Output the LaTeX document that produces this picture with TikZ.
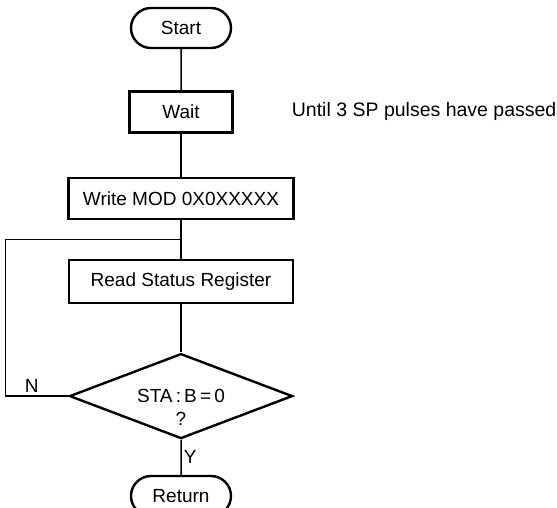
\documentclass[tikz,border=0pt]{standalone}
\usepackage{fontspec}
\setmainfont{Liberation Sans}
\usetikzlibrary{shapes.geometric, shapes.misc, positioning, calc}

\begin{document}
\begin{tikzpicture}[x=1pt, y=-1pt,
		font=\fontsize{19}{23}\selectfont,
		line/.style={line width=1.5pt}
	]
	\tikzstyle{Node} = [ %common look of the flowchart shapes
		text centered,
		draw=black,
		line width=2.4pt,
		inner sep=2pt
	]
	\tikzstyle{BoxNode} = [
		rectangle,
		minimum height=41pt,
		Node
	]
	\tikzstyle{TermNode} = [
		rounded rectangle,
		minimum width=104pt,
		minimum height=40pt,
		Node
	]
	\tikzstyle{DecNode} = [
		diamond,
		minimum width=223pt,
		minimum height=85pt,
		inner sep=0pt,
		Node
	]

	\useasboundingbox (0,0) rectangle (557,507);

	\node (start) [TermNode] at (181,28) {Start};
	\node (wait) [BoxNode, minimum width=103pt, below = 41pt of start] {Wait};
	\node (write) [BoxNode, minimum width=225pt, below = 43pt of wait] {Write MOD 0X0XXXXX};
	\node (read) [BoxNode, minimum width=224pt, minimum height=43pt, below = 39pt of write] {Read Status Register};
	\node (test) [DecNode, below = 48pt of read] {};
	\node (testtext) [align=center] at ([yshift=-11pt]test.center) {STA\,:\,B\,=\,0\\?};
	\node (return) [TermNode, below = 35pt of test] {Return};
	\node (note) [inner sep=0pt, right = 58pt of wait, font=\fontsize{19.5}{23}\selectfont] {Until 3 SP pulses have passed};

	\draw[line] (start) -- (wait);
	\draw[line] (wait) -- (write);
	\draw[line] (write) -- (read);
	\draw[line] (read) -- (test);
	\draw[line] (test) -- node [right, inner sep=2pt] {Y} (return);
	\draw[line] (test.west) -- node [above, pos=0.58, inner sep=3pt] {N} ++(-63,0) |- ($(write.south)!0.5!(read.north)$);
\end{tikzpicture}
\end{document}
